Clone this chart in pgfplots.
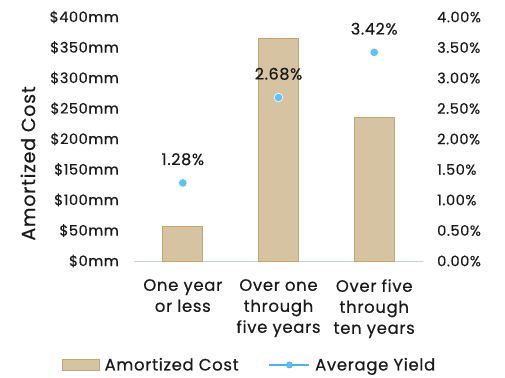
\documentclass[border=0pt]{standalone}
\usepackage{fontspec}
\setmainfont{Poppins}[LetterSpace=4, FakeBold=0.5]
\usepackage{pgfplots}
\pgfplotsset{compat=1.18}
\definecolor{barfill}{HTML}{D6C3A1}
\definecolor{bardraw}{HTML}{C6A472}
\definecolor{dotblue}{HTML}{5EC2F4}
\definecolor{lineblue}{HTML}{4AB2EE}
\definecolor{axisgray}{HTML}{C9D1DC}
\definecolor{txt}{HTML}{1A1A1A}
\begin{document}
\begin{tikzpicture}
\useasboundingbox (-134pt,-116pt) rectangle (371pt,261pt);
\begin{axis}[
  scale only axis, width=289pt, height=244pt,
  xmin=-0.51, xmax=2.51, ymin=0, ymax=400,
  axis x line*=bottom, axis y line*=left,
  x axis line style={draw=axisgray, line width=0.8pt, -},
  y axis line style={draw=none},
  major tick length=0pt,
  xtick={0,1,2},
  xticklabels={One year\\or less, Over one\\through\\five years, Over five\\through\\ten years},
  x tick label style={align=center, text=txt, font=\fontsize{16.5}{21}\selectfont, inner sep=0pt, yshift=-18pt},
  ytick={0,50,100,150,200,250,300,350,400},
  yticklabels={\$0mm,\$50mm,\$100mm,\$150mm,\$200mm,\$250mm,\$300mm,\$350mm,\$400mm},
  y tick label style={text=txt, font=\fontsize{14.5}{16}\selectfont, inner sep=0pt, xshift=-15pt},
  ylabel={Amortized Cost},
  ylabel style={text=txt, font=\fontsize{19}{21}\selectfont, at={(axis description cs:-0.367,0.40)}, anchor=center, rotate=0, inner sep=0pt},
]
\addplot[ybar, bar width=40pt, fill=barfill, draw=bardraw, line width=1pt] coordinates {(0,56) (1,365) (2,236)};
\end{axis}
\begin{axis}[
  scale only axis, width=289pt, height=244pt,
  xmin=-0.51, xmax=2.51, ymin=0, ymax=4,
  axis y line*=right, axis x line=none,
  y axis line style={draw=none},
  major tick length=0pt,
  ytick={0,0.5,1,1.5,2,2.5,3,3.5,4},
  yticklabels={0.00\%,0.50\%,1.00\%,1.50\%,2.00\%,2.50\%,3.00\%,3.50\%,4.00\%},
  y tick label style={text=txt, font=\fontsize{14.5}{16}\selectfont, inner sep=0pt, xshift=14pt},
  legend style={at={(0.396,-0.426)}, anchor=center, draw=none, legend columns=2,
    font=\fontsize{16.5}{18}\selectfont, text=txt, inner sep=0pt,
    nodes={inner sep=0pt},
    /tikz/every odd column/.append style={column sep=5pt},
    /tikz/every even column/.append style={column sep=30pt}},
]
\addlegendimage{legend image code/.code={\draw[fill=barfill, draw=bardraw, line width=1pt] (0pt,-5.5pt) rectangle (37pt,5.5pt);}}
\addlegendentry{Amortized Cost}
\addplot[only marks, mark=*, mark size=4.3pt, mark options={fill=dotblue, draw=white, line width=0.6pt},
  nodes near coords, point meta=explicit symbolic,
  every node near coord/.append style={text=txt, font=\fontsize{16}{18}\selectfont, yshift=14pt},
  legend image code/.code={\draw[lineblue, line width=1.5pt] (0pt,0pt) -- (40pt,0pt); \fill[dotblue, draw=lineblue, line width=0.8pt] (20pt,0pt) circle (3pt);}
] coordinates {(0,1.28) [1.28\%] (1,2.68) [2.68\%] (2,3.42) [3.42\%]};
\addlegendentry{Average Yield}
\end{axis}
\end{tikzpicture}
\end{document}
